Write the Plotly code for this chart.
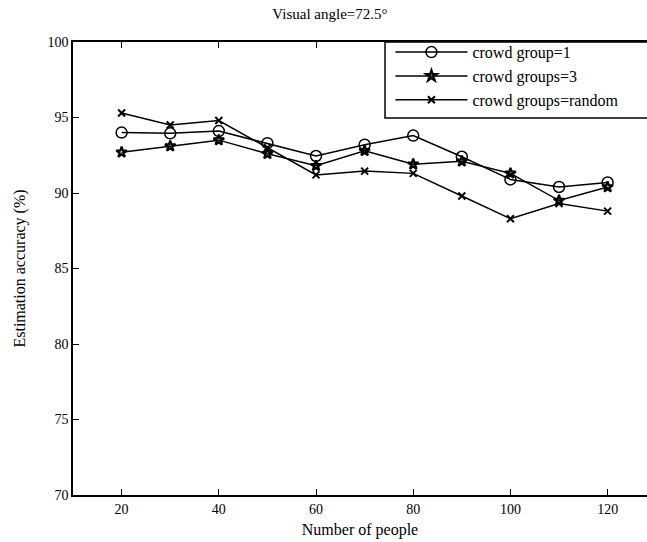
import plotly.graph_objects as go

people = [20, 30, 40, 50, 60, 70, 80, 90, 100, 110, 120]
group_1 = [94.0, 93.95, 94.1, 93.3, 92.45, 93.2, 93.8, 92.4, 90.9, 90.4, 90.7]
groups_3 = [92.7, 93.1, 93.5, 92.6, 91.8, 92.8, 91.9, 92.1, 91.3, 89.5, 90.4]
groups_random = [95.3, 94.5, 94.8, 93.0, 91.2, 91.45, 91.3, 89.8, 88.3, 89.3, 88.8]

series_names = ["crowd group=1", "crowd groups=3", "crowd groups=random"]
x_ticks = [20, 40, 60, 80, 100, 120]
y_ticks = [70, 75, 80, 85, 90, 95, 100]

FONT = "Liberation Serif"

fig = go.Figure()
fig.add_trace(go.Scatter(
    x=people, y=group_1, name=series_names[0], mode="lines+markers",
    line=dict(color="black", width=1.5),
    marker=dict(symbol="circle-open", size=11, color="black", line=dict(width=1.5)),
))
fig.add_trace(go.Scatter(
    x=people, y=groups_3, name=series_names[1], mode="lines+markers",
    line=dict(color="black", width=1.5),
    marker=dict(symbol="star-open", size=8, color="black", line=dict(width=2.2)),
))
fig.add_trace(go.Scatter(
    x=people, y=groups_random, name=series_names[2], mode="lines+markers",
    line=dict(color="black", width=1.5),
    marker=dict(symbol="x-thin-open", size=7, color="black", line=dict(width=2)),
))

# legend frame (extends past the right edge, as in the reference)
fig.add_shape(type="rect", xref="paper", yref="paper",
              x0=0.5436, x1=1.05, y0=0.832, y1=1.0,
              line=dict(color="black", width=1.5), fillcolor="white", layer="above")

fig.update_layout(
    width=647, height=542,
    margin=dict(l=73, r=0, t=42, b=47),
    paper_bgcolor="white", plot_bgcolor="white",
    font=dict(family=FONT, size=14, color="black"),
    title=dict(text="Visual angle=72.5°", x=0.51, xanchor="center", y=0.975, yanchor="middle",
               font=dict(family=FONT, size=15, color="black")),
    showlegend=True,
    legend=dict(
        x=0.553, y=1.015, xanchor="left", yanchor="top",
        bgcolor="rgba(0,0,0,0)", borderwidth=0,
        font=dict(family=FONT, size=16, color="black"),
        itemwidth=72, tracegroupgap=0,
    ),
    xaxis=dict(
        range=[10, 128.1], tickvals=x_ticks, ticks="inside", ticklen=6,
        tickcolor="black", showline=True, linecolor="black", linewidth=1.5,
        mirror="ticks", showgrid=False, zeroline=False,
        title=dict(text="Number of people", font=dict(family=FONT, size=16), standoff=8),
        tickfont=dict(family=FONT, size=14),
    ),
    yaxis=dict(
        range=[70, 100], tickvals=y_ticks, ticks="inside", ticklen=6,
        tickcolor="black", showline=True, linecolor="black", linewidth=1.5,
        mirror=False, showgrid=False, zeroline=False,
        title=dict(text="Estimation accuracy (%)", font=dict(family=FONT, size=16), standoff=18),
        tickfont=dict(family=FONT, size=14),
    ),
)

fig.write_html("out.html")
